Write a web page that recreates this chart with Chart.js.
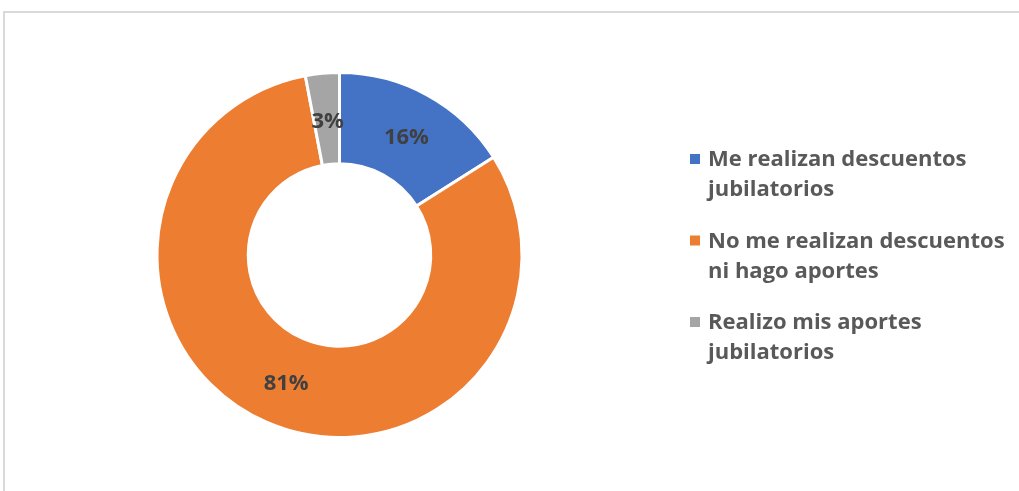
<!DOCTYPE html>
<html>
<head>
<meta charset="utf-8">
<script src="https://cdn.jsdelivr.net/npm/chart.js@4/dist/chart.umd.min.js"></script>
<style>
    html, body { margin: 0; padding: 0; background: #fff; overflow: hidden; }
    #frame { position: absolute; left: 3px; top: 11px; width: 1100px; height: 600px; border: 2px solid #D9D9D9; box-sizing: border-box; }
    #wrap { position: absolute; left: 0; top: 0; width: 1019px; height: 491px; }
</style>
</head>
<body>
<div id="frame"></div>
<div id="wrap"><canvas id="donut" width="1019" height="491"></canvas></div>
<script>
const categories = [
    ["Me realizan descuentos", "jubilatorios"],
    ["No me realizan descuentos", "ni hago aportes"],
    ["Realizo mis aportes", "jubilatorios"]
];
const values = [16, 81, 3];
const colors = ["#4472C4", "#ED7D31", "#A5A5A5"];

const labelFont = "bold 22px 'Open Sans', sans-serif";

// percent labels in the middle of each ring segment
const sliceLabels = {
    id: "sliceLabels",
    afterDatasetsDraw(chart) {
        let ctx = chart.ctx;
        let meta = chart.getDatasetMeta(0);
        let total = values.reduce((a, b) => a + b, 0);
        ctx.save();
        ctx.font = "bold 22px 'Open Sans', sans-serif";
        ctx.fillStyle = "#404040";
        ctx.textAlign = "center";
        ctx.textBaseline = "middle";
        meta.data.forEach((arc, i) => {
            let mid = (arc.startAngle + arc.endAngle) / 2;
            let r = (arc.innerRadius + arc.outerRadius) / 2;
            let x = arc.x + Math.cos(mid) * r;
            let y = arc.y + Math.sin(mid) * r;
            ctx.fillText(Math.round(values[i] / total * 100) + "%", x + 1, y + 3);
        });
        ctx.restore();
    }
};

// legend on the right, two lines per entry
const sideLegend = {
    id: "sideLegend",
    afterDraw(chart) {
        let ctx = chart.ctx;
        ctx.save();
        ctx.font = labelFont;
        ctx.textBaseline = "middle";
        for (let i = 0; i < categories.length; i++) {
            let y = 159 + i * 81.5;
            ctx.fillStyle = colors[i];
            ctx.fillRect(690, y - 5, 10, 10);
            ctx.fillStyle = "#595959";
            for (let j = 0; j < categories[i].length; j++) {
                ctx.fillText(categories[i][j], 708, y + 1 + j * 30);
            }
        }
        ctx.restore();
    }
};

new Chart(document.getElementById("donut").getContext("2d"), {
    type: "doughnut",
    data: {
        labels: categories.map(c => c.join(" ")),
        datasets: [{
            data: values,
            backgroundColor: colors,
            borderColor: "#FFFFFF",
            borderWidth: 3
        }]
    },
    options: {
        responsive: false,
        animation: false,
        cutout: "50%",
        layout: {
            padding: { left: 155, right: 495, top: 71, bottom: 52 }
        },
        plugins: {
            legend: { display: false },
            tooltip: { enabled: false }
        }
    },
    plugins: [sliceLabels, sideLegend]
});
</script>
</body>
</html>
